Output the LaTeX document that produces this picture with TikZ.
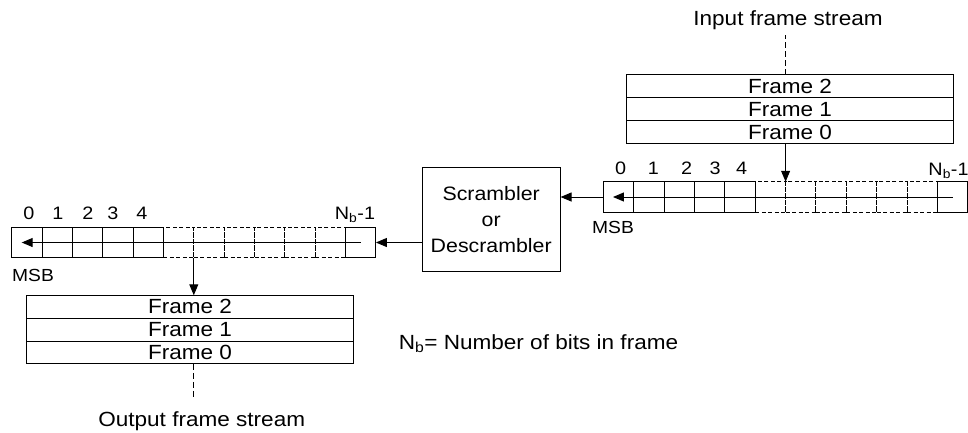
\documentclass[tikz,border=0pt]{standalone}
\usepackage{fontspec}
\setmainfont{Liberation Sans}[FakeStretch=1.1]
\usetikzlibrary{arrows.meta}
\begin{document}
\begin{tikzpicture}[x=1pt,y=-1pt,line width=1pt,
  txt/.style={font=\fontsize{20.5}{24}\selectfont,inner sep=0pt},
  lbl/.style={font=\fontsize{18}{21}\selectfont,inner sep=0pt,anchor=base},
  framebox/.style={draw,txt,minimum width=326.6pt,minimum height=22.9pt,outer sep=0pt},
  cellbox/.style={draw,minimum width=30.35pt,minimum height=30.5pt,inner sep=0pt,outer sep=0pt},
  dcellbox/.style={cellbox,dash pattern=on 4pt off 2.5pt},
  arr/.style={-{Triangle[length=11pt,width=9pt]}},
  dline/.style={dash pattern=on 6pt off 3pt}]
\useasboundingbox (0,0) rectangle (968,432);

% input frames
\node[framebox] (rf2) at (790,86.4) {Frame 2};
\node[framebox,anchor=north] (rf1) at (rf2.south) {Frame 1};
\node[framebox,anchor=north] (rf0) at (rf1.south) {Frame 0};
\node[txt,anchor=base] (inp) at (788,25.7) {Input frame stream};

% right register
\foreach \i in {0,...,11}{
  \ifnum\i<5 \def\st{cellbox}\else\ifnum\i<11 \def\st{dcellbox}\else\def\st{cellbox}\fi\fi
  \node[\st] (r\i) at (603.5+15.175+\i*30.35,197) {};
}
\draw[arr] (r11.center) -- ([xshift=-5.7pt]r0.center);

% left register
\foreach \i in {0,...,11}{
  \ifnum\i<5 \def\st{cellbox}\else\ifnum\i<11 \def\st{dcellbox}\else\def\st{cellbox}\fi\fi
  \node[\st] (l\i) at (11.7+15.175+\i*30.35,242.5) {};
}
\draw[arr] (l11.center) -- ([xshift=-5.2pt]l0.center);

% scrambler
\node[draw,minimum width=137.7pt,minimum height=104.4pt,align=center,
  font=\fontsize{19.4}{26}\selectfont,inner sep=0pt] (scr) at (491.2,219.5)
  {Scrambler\\or\\Descrambler};

% output frames
\node[framebox] (lf2) at (190,306.7) {Frame 2};
\node[framebox,anchor=north] (lf1) at (lf2.south) {Frame 1};
\node[framebox,anchor=north] (lf0) at (lf1.south) {Frame 0};
\node[txt,anchor=base] (outp) at (201.7,426.7) {Output frame stream};

% labels right register
\node[lbl] (rn0) at (620.5,174) {0};
\node[lbl] (rn1) at (653.3,174) {1};
\node[lbl] (rn2) at (686.7,174) {2};
\node[lbl] (rn3) at (715,174) {3};
\node[lbl] (rn4) at (741.7,174) {4};
\node[lbl] (rnb) at (948.5,175) {N\textsubscript{b}-1};
\node[lbl,font=\fontsize{17.5}{21}\selectfont] (rmsb) at (613,233.3) {MSB};

% labels left register
\node[lbl] (ln0) at (29,219) {0};
\node[lbl] (ln1) at (58,219) {1};
\node[lbl] (ln2) at (88,219) {2};
\node[lbl] (ln3) at (113,219) {3};
\node[lbl] (ln4) at (142,219) {4};
\node[lbl] (lnb) at (355,219) {N\textsubscript{b}-1};
\node[lbl,font=\fontsize{17.5}{21}\selectfont] (lmsb) at (33,281.7) {MSB};

% legend
\node[txt,anchor=base west] (leg) at (398.3,349.3) {N\textsubscript{b}= Number of bits in frame};

% connectors
\draw[dline] (rf2.north -| r6.west) -- ([yshift=-5pt]inp.south -| r6.west);
\draw[arr] (rf0.south -| r6.west) -- (r6.north west);
\draw[arr] (r0.west) -- (r0.west -| scr.east);
\draw[arr] (scr.west |- l11.east) -- (l11.east);
\draw[arr] (l6.south west) -- (l6.south west |- lf2.north);
\draw[dline] (lf0.south -| l6.west) -- ([yshift=12pt]outp.north -| l6.west);
\end{tikzpicture}
\end{document}
